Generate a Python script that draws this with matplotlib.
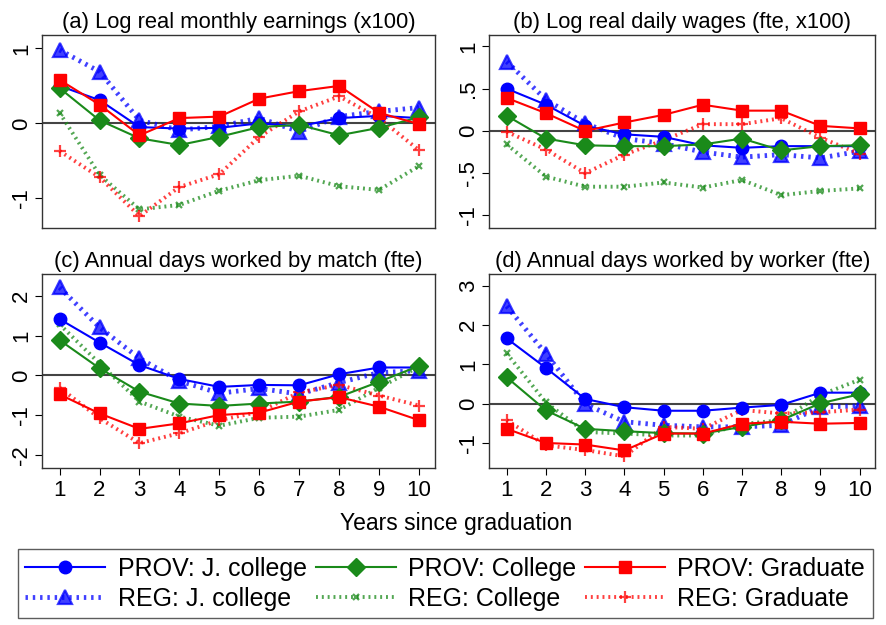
import matplotlib.pyplot as plt
import numpy as np

years = list(range(1, 11))

# (a) Log real monthly earnings (x100)
a_prov_jc = [0.50, 0.31, -0.05, -0.07, -0.06, 0.00, -0.04, 0.07, 0.10, 0.07]
a_reg_jc = [0.98, 0.69, 0.04, -0.09, -0.04, 0.07, -0.11, 0.09, 0.16, 0.21]
a_prov_col = [0.47, 0.04, -0.20, -0.29, -0.18, -0.05, -0.02, -0.16, -0.06, 0.08]
a_reg_col = [0.14, -0.69, -1.15, -1.09, -0.90, -0.76, -0.70, -0.84, -0.89, -0.57]
a_prov_grad = [0.58, 0.25, -0.16, 0.07, 0.09, 0.33, 0.43, 0.50, 0.14, -0.01]
a_reg_grad = [-0.37, -0.72, -1.24, -0.85, -0.68, -0.18, 0.16, 0.36, 0.07, -0.36]

# (b) Log real daily wages (fte, x100)
b_prov_jc = [0.50, 0.31, 0.06, -0.04, -0.07, -0.17, -0.20, -0.18, -0.18, -0.18]
b_reg_jc = [0.82, 0.37, 0.09, -0.09, -0.15, -0.25, -0.31, -0.28, -0.32, -0.24]
b_prov_col = [0.18, -0.09, -0.17, -0.18, -0.18, -0.16, -0.09, -0.23, -0.18, -0.17]
b_reg_col = [-0.16, -0.54, -0.66, -0.66, -0.61, -0.67, -0.58, -0.76, -0.71, -0.68]
b_prov_grad = [0.39, 0.21, 0.00, 0.10, 0.19, 0.31, 0.24, 0.24, 0.06, 0.03]
b_reg_grad = [-0.01, -0.22, -0.50, -0.28, -0.11, 0.08, 0.08, 0.15, -0.08, -0.27]

# (c) Annual days worked by match (fte)
c_prov_jc = [1.42, 0.83, 0.26, -0.09, -0.29, -0.24, -0.25, 0.03, 0.20, 0.20]
c_reg_jc = [2.22, 1.21, 0.43, -0.14, -0.45, -0.33, -0.47, -0.18, 0.07, 0.12]
c_prov_col = [0.89, 0.18, -0.41, -0.71, -0.77, -0.71, -0.66, -0.54, -0.16, 0.24]
c_reg_col = [1.29, 0.30, -0.66, -1.04, -1.27, -1.07, -1.04, -0.87, -0.31, 0.22]
c_prov_grad = [-0.48, -0.96, -1.35, -1.21, -1.00, -0.94, -0.66, -0.55, -0.79, -1.13]
c_reg_grad = [-0.31, -1.08, -1.71, -1.46, -1.13, -0.92, -0.43, -0.24, -0.51, -0.76]

# (d) Annual days worked by worker (fte)
d_prov_jc = [1.66, 0.91, 0.12, -0.09, -0.18, -0.18, -0.10, -0.03, 0.28, 0.28]
d_reg_jc = [2.48, 1.27, -0.01, -0.46, -0.55, -0.59, -0.59, -0.55, -0.08, -0.06]
d_prov_col = [0.67, -0.17, -0.64, -0.70, -0.75, -0.76, -0.59, -0.42, 0.01, 0.24]
d_reg_col = [1.28, 0.03, -0.72, -0.76, -0.81, -0.81, -0.52, -0.42, 0.22, 0.61]
d_prov_grad = [-0.64, -1.00, -1.04, -1.19, -0.76, -0.76, -0.51, -0.46, -0.51, -0.49]
d_reg_grad = [-0.42, -1.06, -1.18, -1.34, -0.59, -0.64, -0.16, -0.25, -0.22, -0.15]

labels = ['PROV: J. college', 'PROV: College', 'PROV: Graduate',
          'REG: J. college', 'REG: College', 'REG: Graduate']

panels = [
    ('(a) Log real monthly earnings (x100)',
     [a_prov_jc, a_prov_col, a_prov_grad, a_reg_jc, a_reg_col, a_reg_grad],
     (-1.4, 1.18), [-1, 0, 1], ['-1', '0', '1']),
    ('(b) Log real daily wages (fte, x100)',
     [b_prov_jc, b_prov_col, b_prov_grad, b_reg_jc, b_reg_col, b_reg_grad],
     (-1.15, 1.135), [-1, -0.5, 0, 0.5, 1], ['-1', '-.5', '0', '.5', '1']),
    ('(c) Annual days worked by match (fte)',
     [c_prov_jc, c_prov_col, c_prov_grad, c_reg_jc, c_reg_col, c_reg_grad],
     (-2.34, 2.55), [-2, -1, 0, 1, 2], ['-2', '-1', '0', '1', '2']),
    ('(d) Annual days worked by worker (fte)',
     [d_prov_jc, d_prov_col, d_prov_grad, d_reg_jc, d_reg_col, d_reg_grad],
     (-1.64, 3.29), [-1, 0, 1, 2, 3], ['-1', '0', '1', '2', '3']),
]

colors = ['#0000ff', '#1a8a1a', '#ff0000', '#0000ff', '#1a8a1a', '#ff0000']
markers = ['o', 'D', 's', '^', 'x', '+']
msizes = [9, 9, 9, 10, 4.5, 9]
dot_style = (0, (0.5, 1.0))

# axes rectangles in figure fractions (left, bottom, width, height)
rects = [
    (0.047, 0.635, 0.444, 0.309),
    (0.552, 0.635, 0.436, 0.309),
    (0.047, 0.251, 0.444, 0.310),
    (0.552, 0.251, 0.436, 0.310),
]

plt.rcParams.update({'font.family': 'Liberation Sans', 'font.size': 16})
fig = plt.figure(figsize=(8.86, 6.25), dpi=100)

handles = {}
for idx, (title, series, ylim, yt, ytl) in enumerate(panels):
    ax = fig.add_axes(rects[idx])
    ax.axhline(0, color='#444444', linewidth=1.5, zorder=1)
    # REG series first (underneath), then PROV
    for k in [3, 4, 5, 0, 1, 2]:
        if k < 3:
            h, = ax.plot(years, series[k], color=colors[k], marker=markers[k],
                         markersize=msizes[k], linewidth=1.5, zorder=3,
                         label=labels[k])
        else:
            lw = 3.5 if k == 3 else 2.8
            h, = ax.plot(years, series[k], color=colors[k], marker=markers[k],
                         markersize=msizes[k], linewidth=lw, linestyle=dot_style,
                         alpha=0.75, markeredgewidth=1.6, zorder=2,
                         label=labels[k])
        if idx == 0:
            handles[k] = h
    ax.set_xlim(0.55, 10.4)
    ax.set_ylim(*ylim)
    ax.set_yticks(yt)
    ax.set_yticklabels(ytl, rotation=90, va='center')
    if idx >= 2:
        ax.set_xticks(years)
        ax.tick_params(axis='x', labelsize=16, length=5)
    else:
        ax.set_xticks([])
    ax.tick_params(axis='y', labelsize=16, length=5, pad=2)
    ax.set_title(title, fontsize=15.8, pad=5)
    for sp in ax.spines.values():
        sp.set_linewidth(1.0)
        sp.set_color('#333333')

fig.text(0.515, 0.163, 'Years since graduation', ha='center', va='center',
         fontsize=16.5)

# legend filled column by column: PROV above REG for each education group
order = [0, 3, 1, 4, 2, 5]
leg = fig.legend([handles[k] for k in order], [labels[k] for k in order],
                 loc='center', ncol=3, fontsize=18, frameon=True,
                 fancybox=False, edgecolor='#333333', handlelength=3.2,
                 columnspacing=1.0, borderpad=0.3, labelspacing=0.25,
                 handletextpad=0.5, mode='expand',
                 bbox_to_anchor=(0.006, 0.005, 0.993, 0.122),
                 bbox_transform=fig.transFigure)
leg.get_frame().set_linewidth(1.0)

fig.savefig('out.png', dpi=100)
